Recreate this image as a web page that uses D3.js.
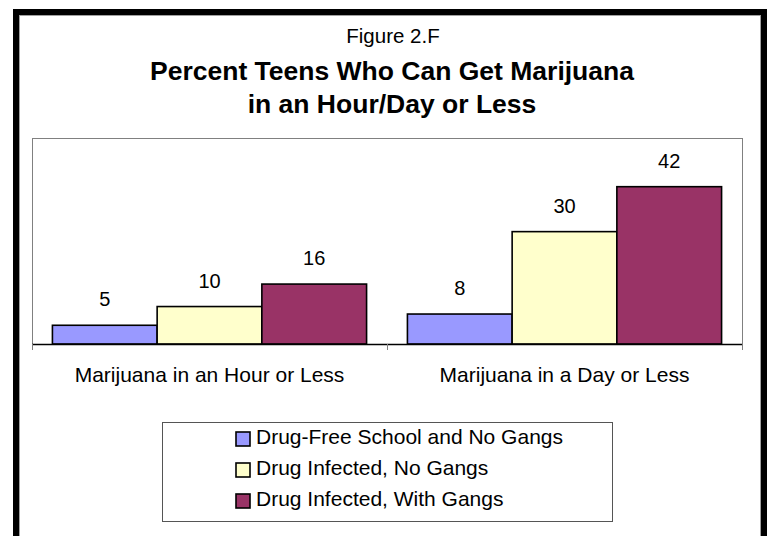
<!DOCTYPE html>
<html>
<head>
<meta charset="utf-8">
<script src="https://cdn.jsdelivr.net/npm/d3@7"></script>
<style>
  body { margin: 0; background: #fff; }
  text { font-family: "Liberation Sans", Arial, sans-serif; fill: #000; }
</style>
</head>
<body>
<div id="chart"></div>
<script>
// data
const categories = ["Marijuana in an Hour or Less", "Marijuana in a Day or Less"];
const series = ["Drug-Free School and No Gangs", "Drug Infected, No Gangs", "Drug Infected, With Gangs"];
const hourValues = [5, 10, 16];
const dayValues = [8, 30, 42];
const colors = ["#9999ff", "#ffffcc", "#993366"];

const W = 768, H = 536;
const plot = { left: 32, right: 742, top: 138, bottom: 344 };

const svg = d3.select("#chart")
    .append("svg")
    .attr("width", W)
    .attr("height", H);

svg.append("rect").attr("width", W).attr("height", H).attr("fill", "#fff");

// outer frame
svg.append("rect")
    .attr("x", 16).attr("y", 12)
    .attr("width", 748).attr("height", 560)
    .attr("fill", "none")
    .attr("stroke", "#000")
    .attr("stroke-width", 6);
svg.append("rect")
    .attr("x", 19.5).attr("y", 15.5)
    .attr("width", 741).attr("height", 560)
    .attr("fill", "none")
    .attr("stroke", "#a0a0a0")
    .attr("stroke-width", 1);

// titles
svg.append("text")
    .attr("x", 393).attr("y", 43)
    .attr("text-anchor", "middle")
    .style("font-size", "20.5px")
    .text("Figure 2.F");
svg.append("text")
    .attr("x", 392).attr("y", 80)
    .attr("text-anchor", "middle")
    .style("font-size", "26.5px")
    .style("font-weight", "bold")
    .text("Percent Teens Who Can Get Marijuana");
svg.append("text")
    .attr("x", 392).attr("y", 113)
    .attr("text-anchor", "middle")
    .style("font-size", "26.5px")
    .style("font-weight", "bold")
    .text("in an Hour/Day or Less");

// scales
const x0 = d3.scaleBand()
    .domain(categories)
    .range([plot.left, plot.right])
    .padding(0);
const x1 = d3.scaleBand()
    .domain(series)
    .range([0, x0.bandwidth()])
    .paddingInner(0)
    .paddingOuter(0.195);
const y = d3.scaleLinear()
    .domain([0, 55])
    .range([plot.bottom, plot.top]);

// plot area border
svg.append("rect")
    .attr("x", plot.left + 0.5).attr("y", plot.top + 0.5)
    .attr("width", plot.right - plot.left).attr("height", plot.bottom - plot.top)
    .attr("fill", "none")
    .attr("stroke", "#808080")
    .attr("stroke-width", 1);

const table = categories.map((c, i) => ({
    category: c,
    values: series.map((s, j) => ({ series: s, value: [hourValues, dayValues][i][j], color: colors[j] }))
}));

const groups = svg.append("g")
    .selectAll("g")
    .data(table)
    .join("g")
    .attr("transform", d => `translate(${x0(d.category)},0)`);

groups.selectAll("rect")
    .data(d => d.values)
    .join("rect")
    .attr("x", d => x1(d.series))
    .attr("y", d => y(d.value))
    .attr("width", x1.bandwidth())
    .attr("height", d => y(0) - y(d.value))
    .attr("fill", d => d.color)
    .attr("stroke", "#000")
    .attr("stroke-width", 1.6);

groups.selectAll("text")
    .data(d => d.values)
    .join("text")
    .attr("x", d => x1(d.series) + x1.bandwidth() / 2)
    .attr("y", d => y(d.value) - 19)
    .attr("text-anchor", "middle")
    .style("font-size", "20px")
    .text(d => d.value);

// x axis
const xAxis = svg.append("g")
    .attr("transform", `translate(0,${plot.bottom})`)
    .call(d3.axisBottom(x0).tickSize(0).tickPadding(23));
xAxis.select(".domain").attr("stroke", "#000").attr("stroke-width", 1.5)
    .attr("d", `M${plot.left},0.5H${plot.right}`);
xAxis.selectAll("text").style("font-size", "21px").attr("fill", "#000");

// category dividers (tick marks)
const tickXs = [plot.left].concat(categories.map(c => x0(c) + x0.bandwidth()));
svg.append("g")
    .selectAll("line")
    .data(tickXs)
    .join("line")
    .attr("x1", d => d + 0.5).attr("x2", d => d + 0.5)
    .attr("y1", plot.bottom).attr("y2", plot.bottom + 6)
    .attr("stroke", "#808080");

// legend
const legend = svg.append("g");
legend.append("rect")
    .attr("x", 162.5).attr("y", 422.5)
    .attr("width", 450).attr("height", 99)
    .attr("fill", "#fff")
    .attr("stroke", "#555")
    .attr("stroke-width", 1);
const items = legend.selectAll("g")
    .data(series)
    .join("g")
    .attr("transform", (d, i) => `translate(236,${432 + i * 31})`);
items.append("rect")
    .attr("width", 14).attr("height", 14)
    .attr("fill", (d, i) => colors[i])
    .attr("stroke", "#000")
    .attr("stroke-width", 1.6);
items.append("text")
    .attr("x", 20).attr("y", 12)
    .style("font-size", "21px")
    .text(d => d);
</script>
</body>
</html>
